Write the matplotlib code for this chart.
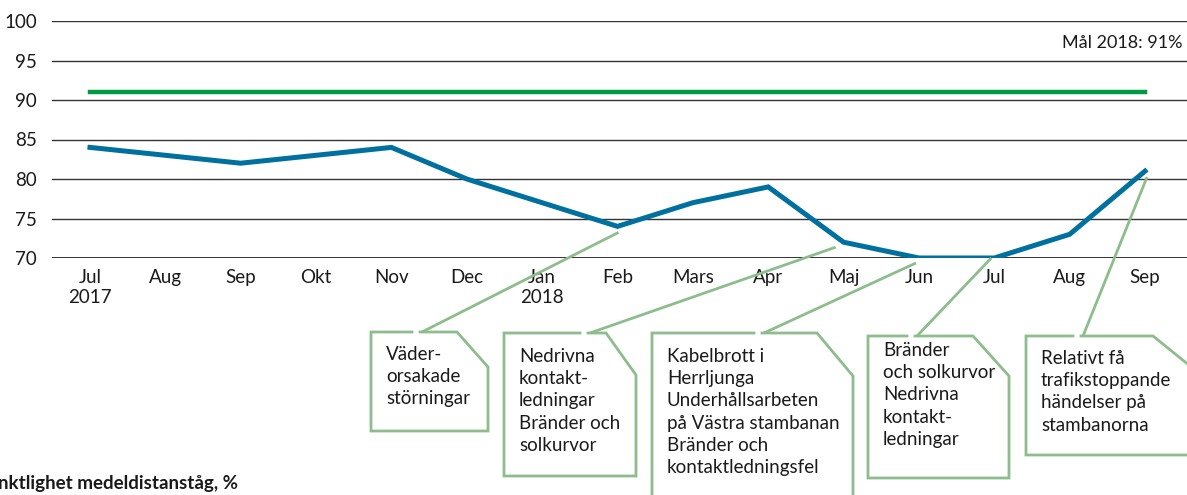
import matplotlib
matplotlib.use("Agg")
import matplotlib.pyplot as plt

plt.rcParams['font.family'] = ['Lato', 'DejaVu Sans']

# ── data ──────────────────────────────────────────────────────────────────────
months = ['Jul\n2017', 'Aug', 'Sep', 'Okt', 'Nov', 'Dec', 'Jan\n2018', 'Feb',
          'Mars', 'Apr', 'Maj', 'Jun', 'Jul', 'Aug', 'Sep']
punctuality = [84, 83, 82, 83, 84, 80, 77, 74, 77, 79, 72, 70, 70, 73, 81]
target = 91
target_label = 'Mål 2018: 91%'
title = 'Punktlighet medeldistanståg, %'

# annotation texts and the month each one points to
notes = [
    (7, 'Väder-\norsakade\nstörningar'),
    (10, 'Nedrivna\nkontakt-\nledningar\nBränder och\nsolkurvor'),
    (11, 'Kabelbrott i\nHerrljunga\nUnderhållsarbeten\npå Västra stambanan\nBränder och\nkontaktledningsfel'),
    (12, 'Bränder\noch solkurvor\nNedrivna\nkontakt-\nledningar'),
    (14, 'Relativt få\ntrafikstoppande\nhändelser på\nstambanorna'),
]

# box geometry in figure pixels (left, top, right, bottom, cut x, cut y, leader x, text y)
boxes = [
    (371, 332, 488, 431, 457, 367, 422, 346),
    (504, 333, 636, 476, 606, 375, 590, 348),
    (652, 333, 853, 530, 817, 376, 764, 348),
    (868, 336, 1009, 478, 973, 376, 917, 342),
    (1026, 336, 1200, 455, 1153, 374, 1083, 350),
]
leader_offsets = [(1, 6), (-8, 5), (-3, 5), (-3, 0), (2, 6)]

W, H = 1187, 495
blue = '#00709f'
green = '#009a44'
box_green = '#8dbd8d'
ink = '#1a1a1a'

fig = plt.figure(figsize=(W / 100, H / 100), dpi=100)
ax = fig.add_axes([52 / W, 237 / H, (W - 52) / W, 237 / H])

x = list(range(len(months)))
ax.plot(x, punctuality, color=blue, lw=3.6, solid_joinstyle='miter', zorder=4)
ax.plot([x[0], x[-1]], [target, target], color=green, lw=3.2, zorder=3)

ax.set_xlim(-0.504, 14.557)
ax.set_ylim(70, 100)
ax.set_yticks(range(70, 101, 5))
ax.set_xticks(x)
ax.set_xticklabels(months, fontsize=13.5, linespacing=1.2, color=ink)
ax.tick_params(axis='y', length=0, pad=11, labelsize=13.5, labelcolor=ink)
ax.tick_params(axis='x', length=0, pad=8)
ax.grid(axis='y', color='#333333', lw=1)
for s in ax.spines.values():
    s.set_visible(False)
ax.axhline(70, color='#333333', lw=1.4, zorder=2)
ax.text(14.5, 97.2, target_label, ha='right', va='center', fontsize=13, color=ink)

# overlay in pixel coordinates for the note boxes
ov = fig.add_axes([0, 0, 1, 1], zorder=5)
ov.set_xlim(0, W)
ov.set_ylim(H, 0)
ov.axis('off')
ov.patch.set_alpha(0)

fig.canvas.draw()
to_px = ov.transData.inverted()
for (mi, txt), (l, t, r, b, cx, cy, lx, ty), (dx, dy) in zip(notes, boxes, leader_offsets):
    px, py = to_px.transform(ax.transData.transform((mi, punctuality[mi])))
    ov.plot([lx, px + dx], [t, py + dy], color=box_green, lw=2, solid_capstyle='butt')
    ov.plot([lx - 10, l, l, r, r, cx, lx - 2],
            [t, t, b, b, cy, t, t], color=box_green, lw=2, solid_joinstyle='miter')
    ov.text(l + 15, ty, txt, ha='left', va='top', fontsize=13.5, linespacing=1.37,
            color=ink, transform=ov.transData)

fig.text(-24 / W, 1 - 484 / H, title, fontsize=13.5, fontweight='bold', ha='left',
         va='center', color=ink)

fig.savefig('out.png', dpi=100)
